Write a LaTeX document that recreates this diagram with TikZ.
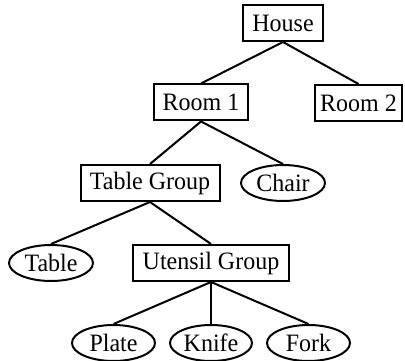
\documentclass[tikz,border=0pt]{standalone}
\usepackage{fontspec}
\setmainfont[FakeStretch=0.96]{Liberation Serif}
\usetikzlibrary{shapes.geometric}
\begin{document}
\begin{tikzpicture}[x=1pt,y=-1pt,
  every node/.style={font=\fontsize{25}{28}\selectfont, inner sep=0pt, line width=2pt, draw},
  rbox/.style={rectangle, minimum height=36pt},
  oval/.style={ellipse, minimum width=84pt, minimum height=36pt},
  link/.style={line width=2pt}]
\useasboundingbox (0,0) rectangle (405,361);
\node[rbox, minimum width=80pt]  (house)   at (283,23)  {House};
\node[rbox, minimum width=94pt]  (room1)   at (201,102.5) {Room 1};
\node[rbox, minimum width=87pt]  (room2)   at (358.5,103) {Room 2};
\node[rbox, minimum width=139pt] (tgroup)  at (150,183) {Table Group};
\node[oval]                      (chair)   at (283,183) {Chair};
\node[oval]                      (table)   at (51,263)  {Table};
\node[rbox, minimum width=156pt] (ugroup)  at (211,263) {Utensil Group};
\node[oval, minimum width=83pt]  (plate)   at (113.5,343) {Plate};
\node[oval, minimum width=82pt]  (knife)   at (211,343) {Knife};
\node[oval, minimum width=83pt]  (fork)    at (308.5,343) {Fork};
\draw[link] (house.south) -- (room1.north);
\draw[link] (house.south) -- (room2.north);
\draw[link] (room1.south) -- (tgroup.north);
\draw[link] (room1.south) -- (chair.north);
\draw[link] (tgroup.south) -- (table.north);
\draw[link] (tgroup.south) -- (ugroup.north);
\draw[link] (ugroup.south) -- (plate.north);
\draw[link] (ugroup.south) -- (knife.north);
\draw[link] (ugroup.south) -- (fork.north);
\end{tikzpicture}
\end{document}
